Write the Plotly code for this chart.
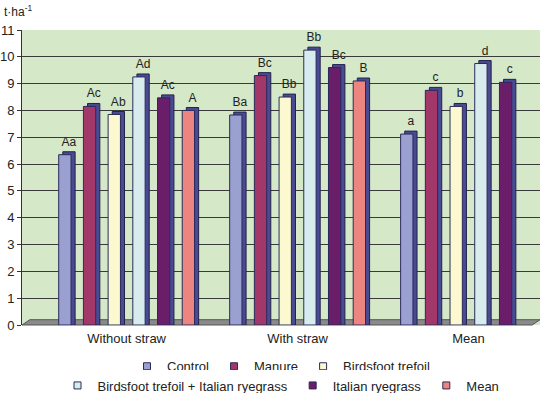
import plotly.graph_objects as go

groups = ["Without straw", "With straw", "Mean"]
series = ["Control", "Manure", "Birdsfoot trefoil",
          "Birdsfoot trefoil + Italian ryegrass", "Italian ryegrass", "Mean"]
control = [6.35, 7.83, 7.12]
manure = [8.15, 9.3, 8.75]
birdsfoot = [7.85, 8.5, 8.15]
birdsfoot_ryegrass = [9.25, 10.25, 9.75]
italian_ryegrass = [8.47, 9.6, 9.05]
mean = [8.0, 9.1, None]
values = [control, manure, birdsfoot, birdsfoot_ryegrass, italian_ryegrass, mean]
letters = [["Aa", "Ba", "a"], ["Ac", "Bc", "c"], ["Ab", "Bb", "b"],
           ["Ad", "Bb", "d"], ["Ac", "Bc", "c"], ["A", "B", None]]
colors = ["#9aa0cf", "#a2386a", "#fcf9d0", "#d8ecee", "#6a1e6a", "#ec847f"]

FONT = "Liberation Sans, Arial, sans-serif"
slot = 0.1445
bw = 0.072
depth_x = 0.024
depth_y = 0.11

fig = go.Figure()
for i, (name, vals, lab, col) in enumerate(zip(series, values, letters, colors)):
    c = (i - 2.5) * slot
    shadow = [None if v is None else v + depth_y for v in vals]
    fig.add_trace(go.Bar(
        x=groups, y=shadow, offset=c - bw / 2 + depth_x, width=bw,
        marker=dict(color="#4a4a92", line=dict(color="#22224a", width=1)),
        text=lab, textposition="outside", constraintext="none", cliponaxis=False,
        textfont=dict(family=FONT, size=12, color="#222"),
        showlegend=False, hoverinfo="skip"))
    fig.add_trace(go.Bar(
        x=groups, y=vals, offset=c - bw / 2, width=bw, name=name,
        marker=dict(color=col, line=dict(color="#2a2a5a", width=1)),
        showlegend=False))
    # legend entry (small square like the reference)
    fig.add_trace(go.Scatter(
        x=[None], y=[None], mode="markers", name=name,
        marker=dict(symbol="square", size=7, color=col,
                    line=dict(color="#2a2a5a", width=1)),
        legend="legend" if i < 3 else "legend2", hoverinfo="skip"))

fig.update_layout(
    width=550, height=393,
    barmode="overlay",
    paper_bgcolor="white", plot_bgcolor="#d5e8c8",
    margin=dict(l=22, r=10, t=30, b=68, autoexpand=False),
    font=dict(family=FONT, size=13, color="#222"),
    xaxis=dict(showgrid=False, ticks="", tickfont=dict(size=13),
               range=[-0.612, 2.418], showline=False, ticklabelstandoff=4),
    yaxis=dict(range=[0, 11], dtick=1, showgrid=True, gridcolor="#3a3a3a",
               gridwidth=1, ticks="outside", ticklen=4, tickcolor="#333",
               showline=True, linecolor="#333", linewidth=1,
               tickfont=dict(size=13), zeroline=False),
    legend=dict(orientation="h", x=0.5, xanchor="center", y=-0.14,
                yanchor="middle", font=dict(size=13), itemwidth=30,
                traceorder="normal"),
    legend2=dict(orientation="h", x=0.5, xanchor="center", y=-0.205,
                 yanchor="middle", font=dict(size=13), itemwidth=30,
                 traceorder="normal"),
    shapes=[dict(type="path", xref="paper", yref="paper", layer="below",
                 path="M 0,0 L 0.985,0 L 1.0,0.018 L 0.015,0.018 Z",
                 fillcolor="#8a8a8a", line=dict(color="#555", width=1))],
    annotations=[dict(text="t·ha<sup>-1</sup>", xref="paper", yref="paper",
                      x=0, xshift=-20, xanchor="left", y=1, yanchor="bottom",
                      yshift=9, showarrow=False, font=dict(size=12))],
)
fig.write_html("out.html", config={"displayModeBar": False},
               post_script="document.body.style.margin='0';document.body.style.overflow='hidden';")
